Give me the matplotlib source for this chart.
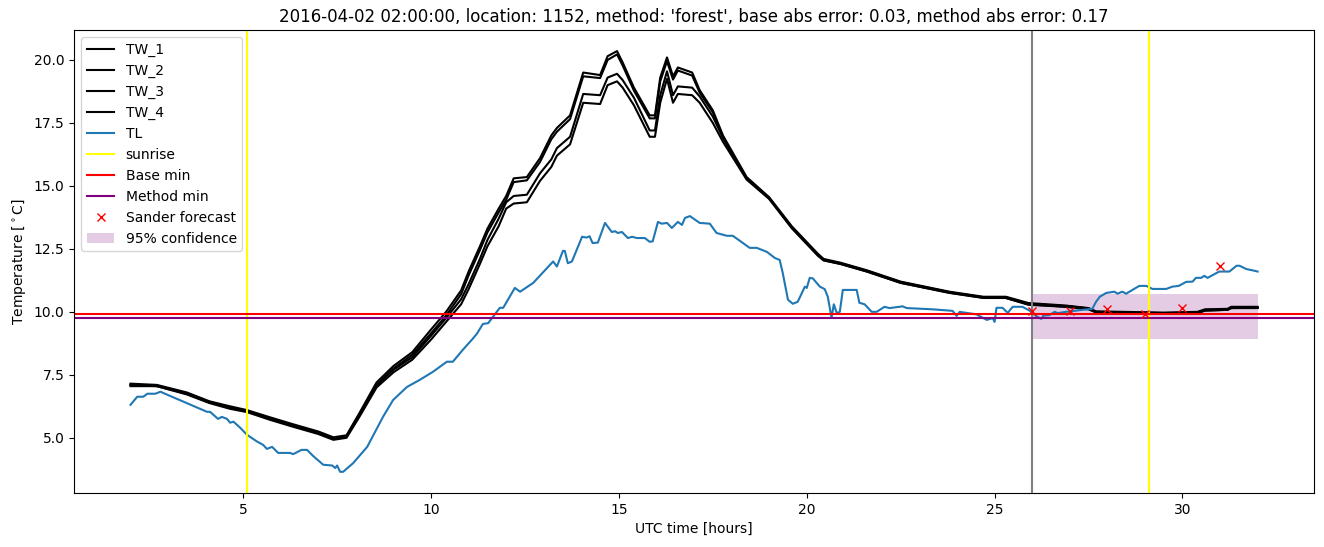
import numpy as np
import matplotlib
matplotlib.use("Agg")
import matplotlib.pyplot as plt

# tiempos (horas UTC) para los sensores TW
tw_t = [2.0, 2.7, 3.5, 4.1, 4.65, 5.1, 5.7, 6.3, 7.0, 7.4, 7.75, 8.1, 8.55, 9.0, 9.5, 10.0,
        10.4, 10.8, 11.0, 11.3, 11.5, 11.8, 12.0, 12.2, 12.55, 12.9, 13.2, 13.35, 13.7, 14.05,
        14.5, 14.7, 14.95, 15.1, 15.4, 15.82, 15.96, 16.1, 16.28, 16.44, 16.57, 16.95, 17.15,
        17.5, 17.77, 18.4, 19.0, 19.6, 20.3, 20.45, 20.9, 21.6, 22.5, 23.8, 24.7, 25.3, 25.9,
        26.9, 27.5, 27.7, 29.5, 30.4, 30.6, 31.2, 31.3, 32.0]

tw_1 = [7.15, 7.1, 6.8, 6.45, 6.25, 6.1, 5.82, 5.55, 5.25, 5.02,
        5.1, 6.0, 7.2, 7.85, 8.4, 9.3, 10.0, 10.85, 11.6, 12.6,
        13.3, 14.1, 14.6, 15.3, 15.35, 16.1, 17.0, 17.3, 17.8, 19.5,
        19.4, 20.15, 20.35, 19.9, 18.9, 17.8, 17.8, 19.3, 20.1, 19.35,
        19.7, 19.5, 18.8, 18.0, 17.0, 15.35, 14.55, 13.4, 12.3, 12.1,
        11.95, 11.65, 11.2, 10.8, 10.6, 10.6, 10.35, 10.25, 10.15, 10.02,
        9.97, 10.0, 10.1, 10.12, 10.2, 10.2]

tw_2 = [7.1, 7.05, 6.75, 6.4, 6.2, 6.05, 5.78, 5.5, 5.2, 4.98,
        5.05, 5.95, 7.1, 7.75, 8.3, 9.15, 9.85, 10.7, 11.45, 12.45,
        13.15, 13.95, 14.45, 15.15, 15.22, 15.95, 16.85, 17.15, 17.65, 19.35,
        19.28, 20.0, 20.22, 19.78, 18.78, 17.68, 17.68, 19.15, 19.95, 19.22,
        19.58, 19.38, 18.7, 17.92, 16.95, 15.28, 14.5, 13.35, 12.25, 12.05,
        11.9, 11.6, 11.15, 10.76, 10.56, 10.55, 10.3, 10.2, 10.1, 9.98,
        9.93, 9.96, 10.05, 10.08, 10.15, 10.16]

tw_3 = [7.1, 7.08, 6.76, 6.42, 6.2, 6.06, 5.76, 5.5, 5.2, 4.97,
        5.05, 5.92, 7.08, 7.7, 8.2, 9.05, 9.75, 10.5, 11.1, 12.1,
        12.85, 13.7, 14.35, 14.6, 14.65, 15.5, 16.05, 16.5, 16.95, 18.65,
        18.6, 19.3, 19.45, 19.2, 18.5, 17.2, 17.2, 18.6, 19.55, 18.6,
        18.95, 18.9, 18.55, 17.75, 16.9, 15.3, 14.52, 13.36, 12.26, 12.07,
        11.93, 11.63, 11.18, 10.78, 10.58, 10.58, 10.32, 10.23, 10.14, 10.0,
        9.95, 9.98, 10.08, 10.1, 10.18, 10.18]

tw_4 = [7.05, 7.05, 6.72, 6.38, 6.15, 6.02, 5.72, 5.45, 5.15, 4.92,
        5.0, 5.85, 7.0, 7.6, 8.1, 8.9, 9.6, 10.3, 10.9, 11.9,
        12.6, 13.4, 14.1, 14.3, 14.35, 15.2, 15.75, 16.2, 16.65, 18.3,
        18.25, 19.0, 19.15, 18.9, 18.2, 16.95, 16.95, 18.3, 19.25, 18.3,
        18.65, 18.6, 18.3, 17.5, 16.75, 15.25, 14.48, 13.32, 12.22, 12.04,
        11.9, 11.6, 11.15, 10.75, 10.55, 10.55, 10.28, 10.2, 10.12, 9.98,
        9.92, 9.95, 10.05, 10.08, 10.15, 10.15]

# temperatura del aire TL
tl_t = [2.0, 2.18, 2.34, 2.45, 2.66, 2.8, 2.87, 4.04, 4.12, 4.33, 4.43, 4.57, 4.65, 4.74,
        4.92, 5.1, 5.37, 5.53, 5.63, 5.77, 5.93, 6.25, 6.33, 6.55, 6.7, 6.86, 7.13, 7.37,
        7.45, 7.5, 7.58, 7.66, 7.93, 8.3, 8.72, 8.99, 9.36, 9.7, 10.05, 10.42, 10.58, 10.85,
        11.09, 11.22, 11.38, 11.52, 11.83, 11.92, 12.23, 12.37, 12.72, 13.25, 13.35, 13.51,
        13.56, 13.64, 13.75, 14.02, 14.14, 14.22, 14.3, 14.44, 14.63, 14.81, 14.9, 14.97,
        15.08, 15.24, 15.35, 15.48, 15.69, 15.82, 15.9, 16.04, 16.14, 16.28, 16.41, 16.57,
        16.68, 16.76, 16.89, 17.15, 17.42, 17.6, 17.87, 18.03, 18.22, 18.48, 18.67, 18.94,
        19.15, 19.28, 19.36, 19.5, 19.63, 19.76, 19.95, 20.0, 20.08, 20.16, 20.35, 20.48,
        20.56, 20.66, 20.72, 20.8, 20.88, 20.96, 21.33, 21.4, 21.54, 21.73, 21.86, 22.07,
        22.2, 22.47, 22.55, 22.66, 23.35, 23.88, 23.99, 24.07, 24.52, 24.79, 24.95, 25.0,
        25.05, 25.21, 25.35, 25.48, 25.74, 25.93, 26.1, 26.24, 26.3, 26.46, 26.6, 26.68,
        26.9, 27.34, 27.6, 27.7, 27.8, 27.97, 28.19, 28.27, 28.4, 28.5, 28.67, 28.85,
        29.04, 29.2, 29.57, 29.73, 29.9, 30.1, 30.27, 30.36, 30.5, 30.58, 30.67, 30.98,
        31.25, 31.44, 31.52, 31.7, 31.92, 32.0]

tl = [6.31, 6.63, 6.63, 6.75, 6.75, 6.83, 6.78, 6.03, 6.03, 5.75, 5.83, 5.75, 5.6, 5.64,
      5.4, 5.12, 4.85, 4.72, 4.56, 4.64, 4.4, 4.4, 4.35, 4.52, 4.52, 4.28, 3.93, 3.9,
      3.8, 3.9, 3.65, 3.65, 4.0, 4.64, 5.83, 6.5, 7.02, 7.3, 7.62, 8.02, 8.02, 8.5,
      8.9, 9.13, 9.52, 9.55, 10.16, 10.16, 10.95, 10.8, 11.15, 12.0, 11.8, 12.42,
      12.42, 11.93, 12.0, 12.98, 12.95, 13.0, 12.73, 12.75, 13.53, 13.17, 13.2, 13.13,
      13.17, 12.93, 12.98, 12.93, 12.93, 12.78, 12.8, 13.57, 13.5, 13.53, 13.33, 13.57,
      13.45, 13.73, 13.8, 13.53, 13.5, 13.13, 13.02, 13.02, 12.82, 12.54, 12.54, 12.38,
      12.14, 12.06, 11.55, 10.48, 10.32, 10.4, 11.0, 10.95, 11.35, 11.33, 11.0, 10.9,
      10.6, 9.76, 10.3, 9.95, 10.0, 10.87, 10.87, 10.36, 10.3, 10.0, 10.0, 10.2,
      10.15, 10.2, 10.22, 10.15, 10.1, 10.04, 9.84, 10.0, 9.9, 9.68, 9.75, 9.6,
      10.16, 10.16, 9.96, 10.2, 10.2, 10.05, 9.84, 9.72, 9.85, 9.87, 10.0, 9.95,
      10.0, 10.08, 10.12, 10.4, 10.6, 10.75, 10.8, 10.72, 10.8, 10.72, 10.87, 11.03,
      11.03, 10.91, 10.91, 11.0, 11.03, 11.19, 11.2, 11.35, 11.35, 11.43, 11.35, 11.6,
      11.6, 11.83, 11.83, 11.7, 11.63, 11.6]

sunrise = [5.1, 29.1]
forecast_start = 26.0
base_min = 9.92
method_min = 9.76
sander_t = [26, 27, 28, 29, 30, 31]
sander_v = [10.05, 10.04, 10.1, 9.92, 10.15, 11.83]
conf_t = [26.0, 32.0]
conf_lo = 8.93
conf_hi = 10.71

fig, ax = plt.subplots(figsize=(13.24, 5.47), dpi=100)
fig.subplots_adjust(left=0.056, right=0.9924, top=0.945, bottom=0.099)

for name, vals in zip(["TW_1", "TW_2", "TW_3", "TW_4"], [tw_1, tw_2, tw_3, tw_4]):
    ax.plot(tw_t, vals, color="black", label=name)
ax.plot(tl_t, tl, color="C0", label="TL")

ax.axvline(sunrise[0], color="yellow", label="sunrise")
ax.axvline(sunrise[1], color="yellow")
ax.axvline(forecast_start, color="grey")
ax.axhline(base_min, color="red", label="Base min")
ax.axhline(method_min, color="purple", label="Method min")
ax.plot(sander_t, sander_v, "rx", label="Sander forecast")
ax.fill_between(conf_t, conf_lo, conf_hi, color="purple", alpha=0.2, linewidth=0,
                label="95% confidence")

ax.set_xlabel("UTC time [hours]")
ax.set_ylabel(r"Temperature [$^\circ$C]")
ax.set_title("2016-04-02 02:00:00, location: 1152, method: 'forest', "
             "base abs error: 0.03, method abs error: 0.17")
ax.legend(loc="upper left")

fig.savefig("out.png")
